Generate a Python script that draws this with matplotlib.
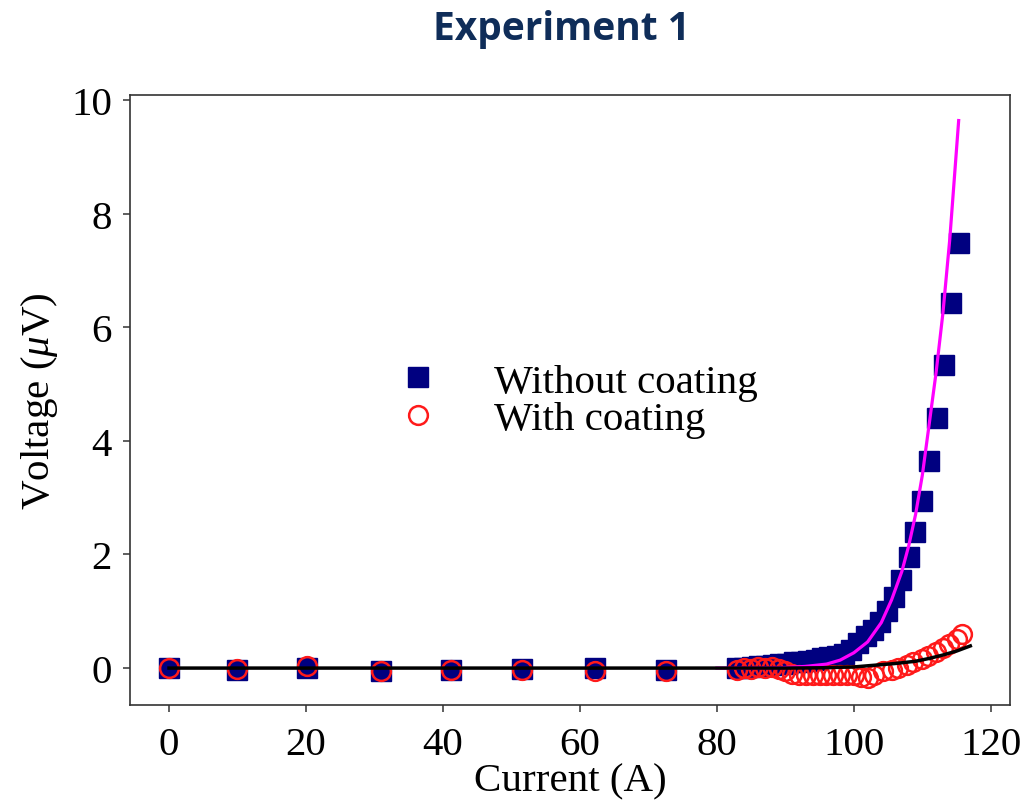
import matplotlib
matplotlib.use("Agg")
import matplotlib.pyplot as plt
from matplotlib.lines import Line2D

# ---- data ----
sq_current = [0.0, 9.9, 20.2, 30.9, 41.2, 51.6, 62.2, 72.6,
              83.0, 84.0, 85.1, 86.1, 87.1, 88.2, 89.2, 90.2, 91.3, 92.3, 93.3,
              94.4, 95.4, 96.4, 97.5, 98.5, 99.6, 100.6, 101.7, 102.8, 103.8,
              104.9, 105.9, 106.9, 108.0, 108.9, 110.0, 111.0, 112.1, 113.1,
              114.2, 115.3]
sq_voltage = [0.0, -0.03, 0.01, -0.05, -0.04, -0.02, 0.0, -0.04,
              0.0, 0.01, 0.02, 0.03, 0.04, 0.05, 0.07, 0.08, 0.10, 0.11, 0.13,
              0.15, 0.17, 0.19, 0.21, 0.24, 0.32, 0.44, 0.56, 0.67, 0.81,
              1.00, 1.26, 1.55, 1.95, 2.39, 2.95, 3.65, 4.40, 5.34,
              6.43, 7.49]

ci_current = [0.0, 9.9, 20.2, 30.9, 41.2, 51.6, 62.2, 72.6,
              83.0, 84.0, 85.0, 86.0, 87.0, 88.0, 89.0, 90.0, 91.0, 92.0, 93.0,
              94.0, 95.0, 96.0, 97.0, 98.0, 99.0, 100.0, 101.1, 102.1, 103.0,
              104.3, 105.5, 106.5, 107.7, 108.7, 109.9, 110.8, 112.0, 113.0,
              113.9, 115.0, 115.8]
ci_voltage = [0.01, -0.01, 0.04, -0.05, -0.04, -0.03, -0.06, -0.06,
              -0.03, 0.0, -0.01, 0.02, 0.01, 0.02, -0.02, -0.06, -0.10, -0.12, -0.13,
              -0.12, -0.13, -0.12, -0.13, -0.12, -0.13, -0.12, -0.15, -0.18, -0.12,
              -0.06, -0.03, 0.0, 0.05, 0.10, 0.16, 0.22, 0.28, 0.35,
              0.43, 0.52, 0.60]

fit1_current = [80, 85, 90, 93, 96, 98, 100, 102, 104, 105.5, 107, 108, 109,
                110, 111, 112, 113, 114, 115.3]
fit1_voltage = [0.0, 0.0, 0.01, 0.03, 0.07, 0.14, 0.27, 0.46, 0.80, 1.20, 1.70,
                2.15, 2.70, 3.40, 4.30, 5.20, 6.25, 7.55, 9.64]

fit2_current = [0, 90, 95, 100, 103, 106, 109, 111, 113, 115, 117]
fit2_voltage = [0, 0, 0.005, 0.02, 0.05, 0.08, 0.12, 0.17, 0.23, 0.30, 0.39]

x_ticks = [0, 20, 40, 60, 80, 100, 120]
y_ticks = [0, 2, 4, 6, 8, 10]

labels = ["Without coating", "With coating"]
title = "Experiment 1"

# ---- figure ----
plt.rcParams['font.family'] = ['Liberation Serif', 'DejaVu Serif']
plt.rcParams['mathtext.fontset'] = 'custom'
plt.rcParams['mathtext.it'] = 'Liberation Serif:italic'
plt.rcParams['mathtext.rm'] = 'Liberation Serif'

fig = plt.figure(figsize=(10.25, 8.04), dpi=100)
ax = fig.add_axes([0.1268, 0.1219, 0.8586, 0.7587])

ax.plot(sq_current, sq_voltage, linestyle='none', marker='s', markersize=15,
        markerfacecolor='#000080', markeredgecolor='#000080', zorder=2)
ax.plot(ci_current, ci_voltage, linestyle='none', marker='o', markersize=13.5,
        markerfacecolor='none', markeredgecolor='#ff1a1a', markeredgewidth=1.8, zorder=3)
ax.plot(fit1_current, fit1_voltage, color='#ff00ff', linewidth=2.3, zorder=4)
ax.plot(fit2_current, fit2_voltage, color='black', linewidth=2.5, zorder=5)

ax.set_xlim(-5.7, 122.8)
ax.set_ylim(-0.65, 10.09)
ax.set_xticks(x_ticks)
ax.set_yticks(y_ticks)
ax.tick_params(direction='out', length=5, width=1.1, labelsize=29.5,
               colors='#333333', labelcolor='black')
ax.tick_params(axis='x', pad=10)
ax.tick_params(axis='y', pad=8)
for s in ax.spines.values():
    s.set_color('#333333')
    s.set_linewidth(1.2)

ax.set_xlabel("Current (A)", fontsize=29.5, labelpad=0)
ax.set_ylabel(r"Voltage ($\mu$V)", fontsize=29.5, labelpad=8)

handles = [Line2D([], [], linestyle='none', marker='s', markersize=15,
                  markerfacecolor='#000080', markeredgecolor='#000080'),
           Line2D([], [], linestyle='none', marker='o', markersize=13.5,
                  markerfacecolor='none', markeredgecolor='#ff1a1a', markeredgewidth=1.8)]
ax.legend(handles, labels, loc='center left', bbox_to_anchor=(0.304, 0.499),
          frameon=False, fontsize=29.5, handlelength=1.0, handletextpad=1.35,
          labelspacing=0.0, borderpad=0, borderaxespad=0)

fig.text(0.548, 0.963, title, ha='center', va='center', fontsize=28,
         fontweight='bold', color='#0f2d59', family=['Open Sans', 'DejaVu Sans'])

fig.savefig("out.png", dpi=100)
